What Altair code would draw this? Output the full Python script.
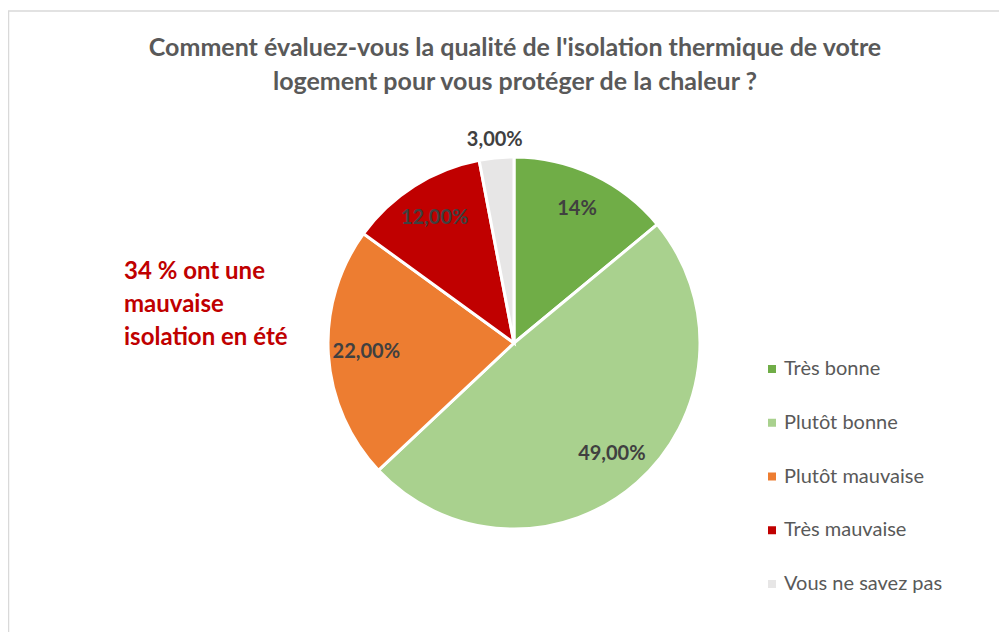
import altair as alt
import pandas as pd

categories = ["Très bonne", "Plutôt bonne", "Plutôt mauvaise", "Très mauvaise", "Vous ne savez pas"]
values = [14, 49, 22, 12, 3]
labels = ["14%", "49,00%", "22,00%", "12,00%", "3,00%"]
colors = ["#70AD47", "#A9D18E", "#ED7D31", "#C00000", "#E7E6E6"]
title_lines = ["Comment évaluez-vous la qualité de l'isolation thermique de votre",
               "logement pour vous protéger de la chaleur ?"]
note_lines = ["34 % ont une", "mauvaise", "isolation en été"]

df = pd.DataFrame({"cat": categories, "val": values, "lab": labels, "ord": list(range(len(categories)))})
one = pd.DataFrame({"k": [0]})

CX, CY, R = 506, 335, 186
FONT = "Lato"

theta_scale = alt.Scale(domain=[0, 100])

base = (
    alt.Chart(df)
    .transform_window(cum="sum(val)", sort=[alt.SortField("ord")], frame=[None, 0])
    .transform_calculate(start="datum.cum - datum.val", mid="datum.cum - datum.val / 2")
)

pie = base.mark_arc(outerRadius=R, stroke="white", strokeWidth=3).encode(
    theta=alt.Theta("start:Q", scale=theta_scale),
    theta2=alt.Theta2("cum:Q"),
    x=alt.value(CX),
    y=alt.value(CY),
    color=alt.Color(
        "cat:N",
        scale=alt.Scale(domain=categories, range=colors),
        legend=alt.Legend(
            title=None, orient="none", direction="vertical",
            legendX=754, legendY=351, padding=0,
            symbolType="square", symbolSize=64, symbolStrokeWidth=0,
            labelFont=FONT, labelFontSize=20, labelColor="#595959",
            rowPadding=33.75, labelOffset=2,
        ),
    ),
)

inner = base.transform_filter(alt.datum.val >= 5).mark_text(
    radius=148, font=FONT, fontSize=20, fontWeight="bold", color="#404040"
).encode(
    theta=alt.Theta("mid:Q", scale=theta_scale, stack=None),
    x=alt.value(CX), y=alt.value(CY),
    text="lab:N",
)

outer = base.transform_filter(alt.datum.val < 5).mark_text(
    radius=204, font=FONT, fontSize=20, fontWeight="bold", color="#404040"
).encode(
    theta=alt.Theta("mid:Q", scale=theta_scale, stack=None),
    x=alt.value(CX), y=alt.value(CY),
    text="lab:N",
)

title = alt.Chart(one).mark_text(
    text=title_lines, font=FONT, fontSize=25, fontWeight="bold", color="#595959",
    lineHeight=34, align="center", baseline="middle"
).encode(x=alt.value(507), y=alt.value(40))

note = alt.Chart(one).mark_text(
    text=note_lines, font=FONT, fontSize=24, fontWeight="bold", color="#C00000",
    lineHeight=33, align="left", baseline="middle"
).encode(x=alt.value(116), y=alt.value(264))

frame = alt.Chart(one).mark_rect(fill="transparent", stroke="#D9D9D9", strokeWidth=1.5).encode(
    x=alt.value(0.5), y=alt.value(3), x2=alt.value(1200), y2=alt.value(1200)
)

chart = (
    alt.layer(frame, pie, inner, outer, title, note)
    .properties(width=991, height=624, padding=0, autosize=alt.AutoSizeParams(type="none"),
                background="white")
    .configure_view(strokeWidth=0)
)

chart.save("out.html", embed_options={"renderer": "svg", "actions": False})
